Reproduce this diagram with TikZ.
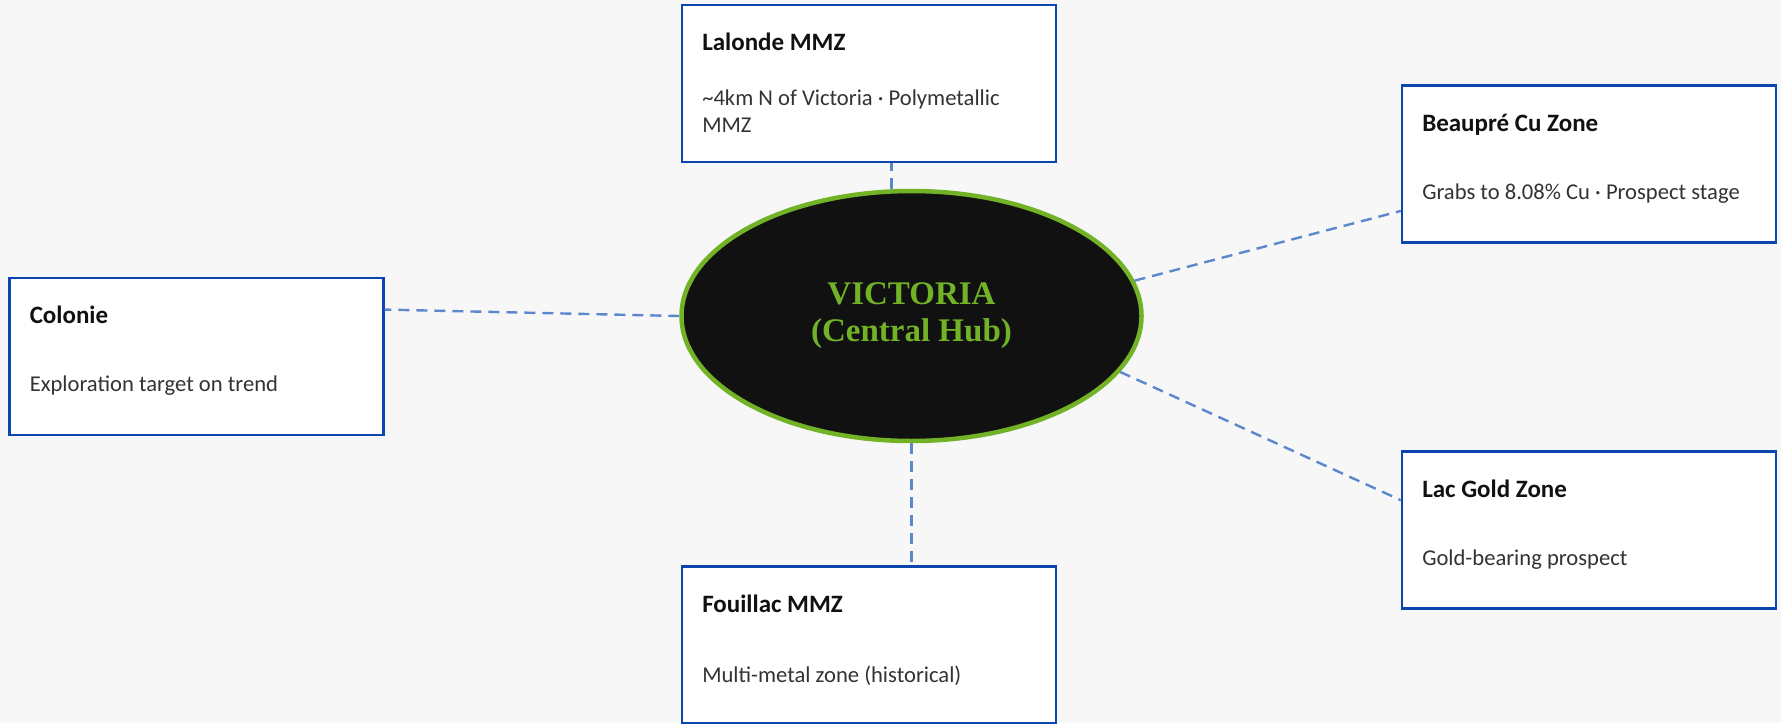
\documentclass[tikz,border=0pt]{standalone}
\usepackage{fontspec}
\setmainfont{Carlito}
\newfontfamily\hubfont{Liberation Serif}
\usetikzlibrary{shapes.geometric}

\definecolor{pagebg}{HTML}{F7F7F7}
\definecolor{boxblue}{HTML}{0B46AE}
\definecolor{linkblue}{HTML}{5B87CC}
\definecolor{hubgreen}{HTML}{71B226}
\definecolor{hubfill}{HTML}{111111}
\definecolor{titletext}{HTML}{111111}
\definecolor{bodytext}{HTML}{333333}

\begin{document}
\begin{tikzpicture}[x=0.5pt, y=-0.5pt,
  zone/.style={draw=boxblue, line width=1.15pt, fill=white, minimum width=187pt, minimum height=78.5pt, inner sep=0pt},
  zonetitle/.style={anchor=base west, inner sep=0pt, text=titletext, font=\fontsize{12.5}{15}\selectfont\bfseries},
  zonebody/.style={anchor=base west, inner sep=0pt, text=bodytext, align=left, font=\fontsize{11.3}{13.5}\selectfont},
  link/.style={draw=linkblue, line width=1.2pt, dash pattern=on 5.5pt off 3.5pt}]

\fill[pagebg] (0,0) rectangle (1781,723);
\useasboundingbox (0,0) rectangle (1781,723);

% hub
\node[ellipse, draw=hubgreen, line width=2.25pt, fill=hubfill, minimum width=230pt, minimum height=125pt,
  inner sep=0pt, align=center, text=hubgreen, font=\hubfont\bfseries\fontsize{16.5}{18.5}\selectfont]
  (hub) at (911.5,316) {VICTORIA\\(Central Hub)};

% zones
\node[zone] (lalonde) at (869,83.5) {};
\node[zonetitle] at ([xshift=10.5pt,yshift=-23.5pt]lalonde.north west) {Lalonde MMZ};
\node[zonebody] at ([xshift=10.5pt,yshift=-64.5pt]lalonde.north west) {\textasciitilde4km N of Victoria · Polymetallic\\MMZ};

\node[zone] (colonie) at (196.5,356.5) {};
\node[zonetitle] at ([xshift=10.5pt,yshift=-23.5pt]colonie.north west) {Colonie};
\node[zonebody] at ([xshift=10.5pt,yshift=-57.5pt]colonie.north west) {Exploration target on trend};

\node[zone] (beaupre) at (1589,164) {};
\node[zonetitle] at ([xshift=10.5pt,yshift=-23.5pt]beaupre.north west) {Beaupré Cu Zone};
\node[zonebody] at ([xshift=10.5pt,yshift=-57.5pt]beaupre.north west) {Grabs to 8.08\% Cu · Prospect stage};

\node[zone] (lac) at (1589,530) {};
\node[zonetitle] at ([xshift=10.5pt,yshift=-23.5pt]lac.north west) {Lac Gold Zone};
\node[zonebody] at ([xshift=10.5pt,yshift=-57.5pt]lac.north west) {Gold-bearing prospect};

\node[zone] (fouillac) at (869,645) {};
\node[zonetitle] at ([xshift=10.5pt,yshift=-23.5pt]fouillac.north west) {Fouillac MMZ};
\node[zonebody] at ([xshift=10.5pt,yshift=-58.5pt]fouillac.north west) {Multi-metal zone (historical)};

% links
\draw[link] (hub.99) -- (hub.99 |- lalonde.south);
\draw[link] (hub.south) -- (hub.south |- fouillac.north);
\draw[link] (hub.west) -- (colonie.14.5);
\draw[link] (hub.9.4) -- (beaupre.194.6);
\draw[link] (hub.345.2) -- (lac.171);

\end{tikzpicture}
\end{document}
